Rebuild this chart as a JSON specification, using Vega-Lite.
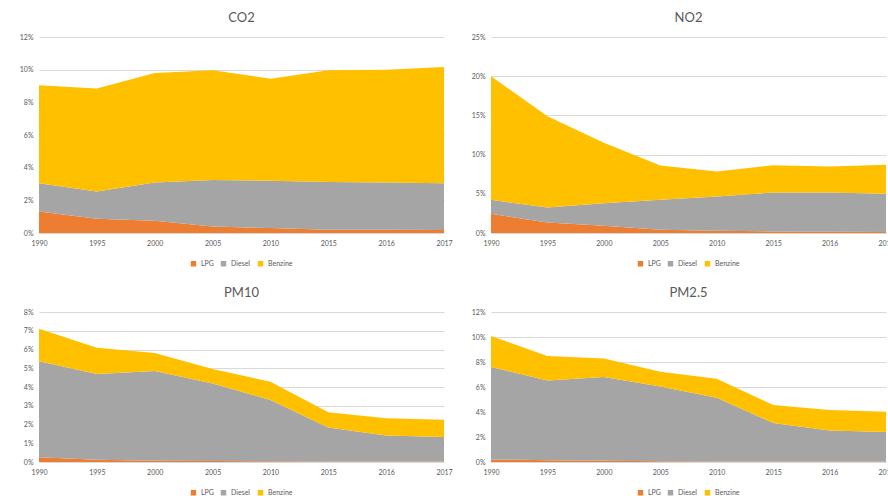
{
  "$schema": "https://vega.github.io/schema/vega-lite/v6.json",
  "padding": {"left": 9, "top": 12, "right": 0, "bottom": 0},
  "background": "white",
  "datasets": {
    "d": [
      {"p": "CO2", "year": "1990", "fuel": "LPG", "v": 1.32},
      {"p": "CO2", "year": "1995", "fuel": "LPG", "v": 0.87},
      {"p": "CO2", "year": "2000", "fuel": "LPG", "v": 0.75},
      {"p": "CO2", "year": "2005", "fuel": "LPG", "v": 0.40},
      {"p": "CO2", "year": "2010", "fuel": "LPG", "v": 0.30},
      {"p": "CO2", "year": "2015", "fuel": "LPG", "v": 0.20},
      {"p": "CO2", "year": "2016", "fuel": "LPG", "v": 0.20},
      {"p": "CO2", "year": "2017", "fuel": "LPG", "v": 0.18},
      {"p": "CO2", "year": "1990", "fuel": "Diesel", "v": 1.73},
      {"p": "CO2", "year": "1995", "fuel": "Diesel", "v": 1.67},
      {"p": "CO2", "year": "2000", "fuel": "Diesel", "v": 2.34},
      {"p": "CO2", "year": "2005", "fuel": "Diesel", "v": 2.85},
      {"p": "CO2", "year": "2010", "fuel": "Diesel", "v": 2.90},
      {"p": "CO2", "year": "2015", "fuel": "Diesel", "v": 2.93},
      {"p": "CO2", "year": "2016", "fuel": "Diesel", "v": 2.89},
      {"p": "CO2", "year": "2017", "fuel": "Diesel", "v": 2.87},
      {"p": "CO2", "year": "1990", "fuel": "Benzine", "v": 5.99},
      {"p": "CO2", "year": "1995", "fuel": "Benzine", "v": 6.30},
      {"p": "CO2", "year": "2000", "fuel": "Benzine", "v": 6.71},
      {"p": "CO2", "year": "2005", "fuel": "Benzine", "v": 6.71},
      {"p": "CO2", "year": "2010", "fuel": "Benzine", "v": 6.25},
      {"p": "CO2", "year": "2015", "fuel": "Benzine", "v": 6.83},
      {"p": "CO2", "year": "2016", "fuel": "Benzine", "v": 6.91},
      {"p": "CO2", "year": "2017", "fuel": "Benzine", "v": 7.11},

      {"p": "NO2", "year": "1990", "fuel": "LPG", "v": 2.45},
      {"p": "NO2", "year": "1995", "fuel": "LPG", "v": 1.35},
      {"p": "NO2", "year": "2000", "fuel": "LPG", "v": 0.93},
      {"p": "NO2", "year": "2005", "fuel": "LPG", "v": 0.42},
      {"p": "NO2", "year": "2010", "fuel": "LPG", "v": 0.30},
      {"p": "NO2", "year": "2015", "fuel": "LPG", "v": 0.20},
      {"p": "NO2", "year": "2016", "fuel": "LPG", "v": 0.15},
      {"p": "NO2", "year": "2017", "fuel": "LPG", "v": 0.12},
      {"p": "NO2", "year": "1990", "fuel": "Diesel", "v": 1.78},
      {"p": "NO2", "year": "1995", "fuel": "Diesel", "v": 1.91},
      {"p": "NO2", "year": "2000", "fuel": "Diesel", "v": 2.88},
      {"p": "NO2", "year": "2005", "fuel": "Diesel", "v": 3.81},
      {"p": "NO2", "year": "2010", "fuel": "Diesel", "v": 4.35},
      {"p": "NO2", "year": "2015", "fuel": "Diesel", "v": 4.96},
      {"p": "NO2", "year": "2016", "fuel": "Diesel", "v": 5.01},
      {"p": "NO2", "year": "2017", "fuel": "Diesel", "v": 4.88},
      {"p": "NO2", "year": "1990", "fuel": "Benzine", "v": 15.77},
      {"p": "NO2", "year": "1995", "fuel": "Benzine", "v": 11.64},
      {"p": "NO2", "year": "2000", "fuel": "Benzine", "v": 7.69},
      {"p": "NO2", "year": "2005", "fuel": "Benzine", "v": 4.37},
      {"p": "NO2", "year": "2010", "fuel": "Benzine", "v": 3.18},
      {"p": "NO2", "year": "2015", "fuel": "Benzine", "v": 3.48},
      {"p": "NO2", "year": "2016", "fuel": "Benzine", "v": 3.31},
      {"p": "NO2", "year": "2017", "fuel": "Benzine", "v": 3.72},

      {"p": "PM10", "year": "1990", "fuel": "LPG", "v": 0.25},
      {"p": "PM10", "year": "1995", "fuel": "LPG", "v": 0.12},
      {"p": "PM10", "year": "2000", "fuel": "LPG", "v": 0.07},
      {"p": "PM10", "year": "2005", "fuel": "LPG", "v": 0.05},
      {"p": "PM10", "year": "2010", "fuel": "LPG", "v": 0.04},
      {"p": "PM10", "year": "2015", "fuel": "LPG", "v": 0.03},
      {"p": "PM10", "year": "2016", "fuel": "LPG", "v": 0.03},
      {"p": "PM10", "year": "2017", "fuel": "LPG", "v": 0.03},
      {"p": "PM10", "year": "1990", "fuel": "Diesel", "v": 5.13},
      {"p": "PM10", "year": "1995", "fuel": "Diesel", "v": 4.57},
      {"p": "PM10", "year": "2000", "fuel": "Diesel", "v": 4.78},
      {"p": "PM10", "year": "2005", "fuel": "Diesel", "v": 4.14},
      {"p": "PM10", "year": "2010", "fuel": "Diesel", "v": 3.27},
      {"p": "PM10", "year": "2015", "fuel": "Diesel", "v": 1.81},
      {"p": "PM10", "year": "2016", "fuel": "Diesel", "v": 1.39},
      {"p": "PM10", "year": "2017", "fuel": "Diesel", "v": 1.30},
      {"p": "PM10", "year": "1990", "fuel": "Benzine", "v": 1.73},
      {"p": "PM10", "year": "1995", "fuel": "Benzine", "v": 1.41},
      {"p": "PM10", "year": "2000", "fuel": "Benzine", "v": 0.97},
      {"p": "PM10", "year": "2005", "fuel": "Benzine", "v": 0.77},
      {"p": "PM10", "year": "2010", "fuel": "Benzine", "v": 0.97},
      {"p": "PM10", "year": "2015", "fuel": "Benzine", "v": 0.81},
      {"p": "PM10", "year": "2016", "fuel": "Benzine", "v": 0.92},
      {"p": "PM10", "year": "2017", "fuel": "Benzine", "v": 0.92},

      {"p": "PM2.5", "year": "1990", "fuel": "LPG", "v": 0.21},
      {"p": "PM2.5", "year": "1995", "fuel": "LPG", "v": 0.15},
      {"p": "PM2.5", "year": "2000", "fuel": "LPG", "v": 0.10},
      {"p": "PM2.5", "year": "2005", "fuel": "LPG", "v": 0.06},
      {"p": "PM2.5", "year": "2010", "fuel": "LPG", "v": 0.04},
      {"p": "PM2.5", "year": "2015", "fuel": "LPG", "v": 0.04},
      {"p": "PM2.5", "year": "2016", "fuel": "LPG", "v": 0.04},
      {"p": "PM2.5", "year": "2017", "fuel": "LPG", "v": 0.04},
      {"p": "PM2.5", "year": "1990", "fuel": "Diesel", "v": 7.39},
      {"p": "PM2.5", "year": "1995", "fuel": "Diesel", "v": 6.38},
      {"p": "PM2.5", "year": "2000", "fuel": "Diesel", "v": 6.70},
      {"p": "PM2.5", "year": "2005", "fuel": "Diesel", "v": 5.99},
      {"p": "PM2.5", "year": "2010", "fuel": "Diesel", "v": 5.11},
      {"p": "PM2.5", "year": "2015", "fuel": "Diesel", "v": 3.08},
      {"p": "PM2.5", "year": "2016", "fuel": "Diesel", "v": 2.49},
      {"p": "PM2.5", "year": "2017", "fuel": "Diesel", "v": 2.36},
      {"p": "PM2.5", "year": "1990", "fuel": "Benzine", "v": 2.48},
      {"p": "PM2.5", "year": "1995", "fuel": "Benzine", "v": 1.95},
      {"p": "PM2.5", "year": "2000", "fuel": "Benzine", "v": 1.49},
      {"p": "PM2.5", "year": "2005", "fuel": "Benzine", "v": 1.18},
      {"p": "PM2.5", "year": "2010", "fuel": "Benzine", "v": 1.52},
      {"p": "PM2.5", "year": "2015", "fuel": "Benzine", "v": 1.44},
      {"p": "PM2.5", "year": "2016", "fuel": "Benzine", "v": 1.64},
      {"p": "PM2.5", "year": "2017", "fuel": "Benzine", "v": 1.63}
    ]
  },
  "spacing": 20,
  "vconcat": [
    {
      "spacing": 8,
      "hconcat": [
        {
          "width": 405, "height": 196,
          "title": "CO2",
          "data": {"name": "d"},
          "transform": [{"filter": "datum.p === 'CO2'"}],
          "mark": {"type": "area", "opacity": 1},
          "encoding": {
            "x": {"field": "year", "type": "ordinal", "scale": {"type": "point", "padding": 0}, "axis": {"title": null, "labelAngle": 0}},
            "y": {"field": "v", "type": "quantitative", "stack": "zero", "scale": {"domain": [0, 12]}, "axis": {"title": null, "values": [0, 2, 4, 6, 8, 10, 12], "labelExpr": "datum.value + '%'"}},
            "color": {"field": "fuel", "type": "nominal", "sort": ["LPG", "Diesel", "Benzine"], "scale": {"domain": ["LPG", "Diesel", "Benzine"], "range": ["#ED7D31", "#A5A5A5", "#FFC000"]}, "legend": {"title": null}}
          }
        },
        {
          "width": 395, "height": 196,
          "title": "NO2",
          "data": {"name": "d"},
          "transform": [{"filter": "datum.p === 'NO2'"}],
          "mark": {"type": "area", "opacity": 1},
          "encoding": {
            "x": {"field": "year", "type": "ordinal", "scale": {"type": "point", "padding": 0}, "axis": {"title": null, "labelAngle": 0}},
            "y": {"field": "v", "type": "quantitative", "stack": "zero", "scale": {"domain": [0, 25]}, "axis": {"title": null, "values": [0, 5, 10, 15, 20, 25], "labelExpr": "datum.value + '%'"}},
            "color": {"field": "fuel", "type": "nominal", "sort": ["LPG", "Diesel", "Benzine"], "scale": {"domain": ["LPG", "Diesel", "Benzine"], "range": ["#ED7D31", "#A5A5A5", "#FFC000"]}, "legend": {"title": null}}
          }
        }
      ],
      "resolve": {"scale": {"y": "independent", "x": "independent"}, "legend": {"color": "independent"}}
    },
    {
      "spacing": 8,
      "hconcat": [
        {
          "width": 405, "height": 150,
          "title": "PM10",
          "data": {"name": "d"},
          "transform": [{"filter": "datum.p === 'PM10'"}],
          "mark": {"type": "area", "opacity": 1},
          "encoding": {
            "x": {"field": "year", "type": "ordinal", "scale": {"type": "point", "padding": 0}, "axis": {"title": null, "labelAngle": 0}},
            "y": {"field": "v", "type": "quantitative", "stack": "zero", "scale": {"domain": [0, 8]}, "axis": {"title": null, "values": [0, 1, 2, 3, 4, 5, 6, 7, 8], "labelExpr": "datum.value + '%'"}},
            "color": {"field": "fuel", "type": "nominal", "sort": ["LPG", "Diesel", "Benzine"], "scale": {"domain": ["LPG", "Diesel", "Benzine"], "range": ["#ED7D31", "#A5A5A5", "#FFC000"]}, "legend": {"title": null}}
          }
        },
        {
          "width": 395, "height": 150,
          "title": "PM2.5",
          "data": {"name": "d"},
          "transform": [{"filter": "datum.p === 'PM2.5'"}],
          "mark": {"type": "area", "opacity": 1},
          "encoding": {
            "x": {"field": "year", "type": "ordinal", "scale": {"type": "point", "padding": 0}, "axis": {"title": null, "labelAngle": 0}},
            "y": {"field": "v", "type": "quantitative", "stack": "zero", "scale": {"domain": [0, 12]}, "axis": {"title": null, "values": [0, 2, 4, 6, 8, 10, 12], "labelExpr": "datum.value + '%'"}},
            "color": {"field": "fuel", "type": "nominal", "sort": ["LPG", "Diesel", "Benzine"], "scale": {"domain": ["LPG", "Diesel", "Benzine"], "range": ["#ED7D31", "#A5A5A5", "#FFC000"]}, "legend": {"title": null}}
          }
        }
      ],
      "resolve": {"scale": {"y": "independent", "x": "independent"}, "legend": {"color": "independent"}}
    }
  ],
  "resolve": {"scale": {"y": "independent", "x": "independent"}, "legend": {"color": "independent"}},
  "config": {
    "font": "Lato",
    "view": {"stroke": null},
    "title": {"fontSize": 13, "fontWeight": "normal", "color": "#595959", "font": "Lato", "offset": 8},
    "axis": {"labelFont": "Lato", "labelFontSize": 7, "labelColor": "#595959", "ticks": false, "gridColor": "#d9d9d9", "gridWidth": 1},
    "axisX": {"grid": false, "domain": true, "domainColor": "#d9d9d9", "labelPadding": 6},
    "axisY": {"domain": false, "labelPadding": 6, "minExtent": 30, "maxExtent": 30},
    "legend": {"orient": "bottom", "direction": "horizontal", "symbolType": "square", "symbolSize": 30, "labelFontSize": 7, "labelColor": "#595959", "labelFont": "Lato", "columnPadding": 6, "offset": 14, "layout": {"bottom": {"anchor": "middle"}}}
  }
}
